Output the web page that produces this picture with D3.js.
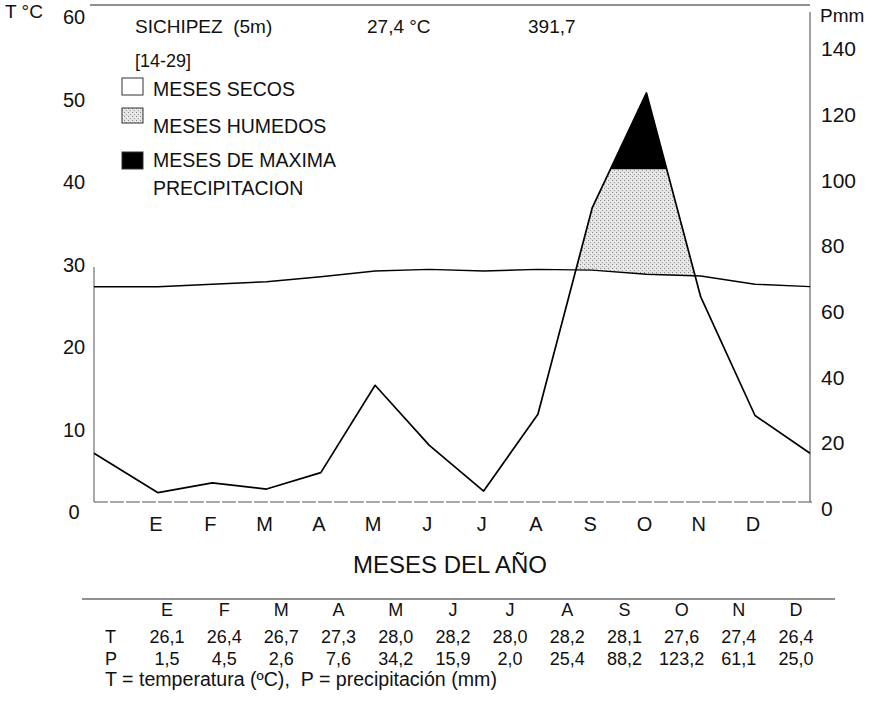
<!DOCTYPE html>
<html>
<head>
<meta charset="utf-8">
<script src="https://cdn.jsdelivr.net/npm/d3@7"></script>
<style>
  body { margin: 0; background: #fff; }
  text { font-family: "Liberation Sans", Arial, sans-serif; fill: #111; }
</style>
</head>
<body>
<script>
const width = 877;
const height = 715;

// datos de la estacion
const months = ["E", "F", "M", "A", "M", "J", "J", "A", "S", "O", "N", "D"];
const temp = [26.1, 26.4, 26.7, 27.3, 28.0, 28.2, 28.0, 28.2, 28.1, 27.6, 27.4, 26.4];
const precip = [1.5, 4.5, 2.6, 7.6, 34.2, 15.9, 2.0, 25.4, 88.2, 123.2, 61.1, 25.0];
const tempTicks = [0, 10, 20, 30, 40, 50, 60];
const precipTicks = [0, 20, 40, 60, 80, 100, 120, 140];
// valor en los bordes del grafico (dic-ene)
const edgeTemp = 26.1;
const edgePrecip = 13.5;
const humidLimit = 100;

const station = "SICHIPEZ \u00a0(5m)";
const meanTemp = "27,4 °C";
const totalPrecip = "391,7";
const range = "[14-29]";
const legendItems = ["MESES SECOS", "MESES HUMEDOS", "MESES DE MAXIMA"];

const plotLeft = 94, plotRight = 810, baseY = 502;

const locale = d3.formatLocale({decimal: ",", thousands: ".", grouping: [3], currency: ["", ""]});
const fmt = locale.format(".1f");

const svg = d3.select("body")
  .append("svg")
  .attr("width", width)
  .attr("height", height)
  .attr("viewBox", [0, 0, width, height]);

const defs = svg.append("defs");

// punteado de los meses humedos
const pat = defs.append("pattern")
  .attr("id", "stipple")
  .attr("patternUnits", "userSpaceOnUse")
  .attr("width", 4).attr("height", 4);
pat.append("rect").attr("width", 4).attr("height", 4).attr("fill", "#e4e4e4");
pat.append("rect").attr("x", 0).attr("y", 0).attr("width", 1).attr("height", 1).attr("fill", "#888");
pat.append("rect").attr("x", 2).attr("y", 2).attr("width", 1).attr("height", 1).attr("fill", "#9c9c9c");
pat.append("rect").attr("x", 3).attr("y", 1).attr("width", 1).attr("height", 1).attr("fill", "#fff");

const x = d3.scaleLinear().domain([0, 11]).range([158, 755]);
const yT = d3.scaleLinear().domain([0, 60]).range([baseY, 7]);
const yP = d3.scaleLinear().domain([0, 140]).range([497.6, 37.8]);

const pts = [{x: plotLeft, t: edgeTemp, p: edgePrecip}]
  .concat(months.map((m, i) => ({x: x(i), t: temp[i], p: precip[i]})))
  .concat([{x: plotRight, t: edgeTemp, p: edgePrecip}]);

const aboveT = d3.area().x(d => d.x).y0(0).y1(d => yT(d.t));
const underP = d3.area().x(d => d.x).y0(baseY).y1(d => yP(d.p));

defs.append("clipPath").attr("id", "clipAboveT")
  .append("path").attr("d", aboveT(pts));
defs.append("clipPath").attr("id", "clipBelow100")
  .append("rect").attr("x", 0).attr("y", yP(humidLimit))
  .attr("width", width).attr("height", baseY - yP(humidLimit));
defs.append("clipPath").attr("id", "clipAbove100")
  .append("rect").attr("x", 0).attr("y", 0)
  .attr("width", width).attr("height", yP(humidLimit));

svg.append("g")
  .attr("clip-path", "url(#clipAboveT)")
  .append("path")
  .attr("d", underP(pts))
  .attr("clip-path", "url(#clipBelow100)")
  .attr("fill", "url(#stipple)");

svg.append("path")
  .attr("d", underP(pts))
  .attr("clip-path", "url(#clipAbove100)")
  .attr("fill", "#000");

// marco
svg.append("line")
  .attr("x1", 90).attr("x2", plotRight).attr("y1", 5).attr("y2", 5)
  .attr("stroke", "#222").attr("stroke-width", 1);
svg.append("line")
  .attr("x1", plotRight).attr("x2", plotRight).attr("y1", 12).attr("y2", baseY)
  .attr("stroke", "#444").attr("stroke-width", 1);
svg.append("line")
  .attr("x1", plotLeft).attr("x2", plotLeft).attr("y1", 267).attr("y2", baseY)
  .attr("stroke", "#555").attr("stroke-width", 1);
svg.append("line")
  .attr("x1", plotLeft).attr("x2", plotRight + 2).attr("y1", baseY).attr("y2", baseY)
  .attr("stroke", "#555").attr("stroke-width", 1)
  .attr("stroke-dasharray", "14 2");

const lineT = d3.line().x(d => d.x).y(d => yT(d.t));
const lineP = d3.line().x(d => d.x).y(d => yP(d.p));

svg.append("path")
  .attr("d", lineT(pts))
  .attr("fill", "none").attr("stroke", "#000").attr("stroke-width", 1.4);
svg.append("path")
  .attr("d", lineP(pts))
  .attr("fill", "none").attr("stroke", "#000").attr("stroke-width", 1.7)
  .attr("stroke-linejoin", "round");

// ejes
svg.append("g").selectAll("text")
  .data(tempTicks)
  .join("text")
  .attr("x", 74)
  .attr("y", d => yT(d) + 10)
  .attr("dy", "0.36em")
  .attr("text-anchor", "middle")
  .style("font-size", "20px")
  .text(d => d);

svg.append("g").selectAll("text")
  .data(precipTicks)
  .join("text")
  .attr("x", 821)
  .attr("y", d => yP(d) + 11)
  .attr("dy", "0.36em")
  .style("font-size", "21px")
  .text(d => d);

svg.append("text").attr("x", 5).attr("y", 18).style("font-size", "19px").text("T °C");
svg.append("text").attr("x", 820).attr("y", 22).style("font-size", "19px").text("Pmm");

svg.append("g").selectAll("text")
  .data(months)
  .join("text")
  .attr("x", (d, i) => x(i) - 2)
  .attr("y", 531)
  .attr("text-anchor", "middle")
  .style("font-size", "20px")
  .text(d => d);

svg.append("text")
  .attr("x", 450).attr("y", 573)
  .attr("text-anchor", "middle")
  .style("font-size", "24px")
  .text("MESES DEL AÑO");

// cabecera y leyenda
svg.append("text").attr("x", 135).attr("y", 33).style("font-size", "19px").text(station);
svg.append("text").attr("x", 367).attr("y", 33).style("font-size", "19px").text(meanTemp);
svg.append("text").attr("x", 528).attr("y", 33).style("font-size", "19px").text(totalPrecip);
svg.append("text").attr("x", 135).attr("y", 67).style("font-size", "18px").text(range);

const boxes = [
  {y: 78, h: 17, fill: "#fff"},
  {y: 108, h: 15, fill: "url(#stipple)"},
  {y: 152, h: 17, fill: "#000"}
];
svg.append("g").selectAll("rect")
  .data(boxes)
  .join("rect")
  .attr("x", 122).attr("y", d => d.y)
  .attr("width", 21).attr("height", d => d.h)
  .attr("fill", d => d.fill)
  .attr("stroke", "#333").attr("stroke-width", 1);

const legendY = [96, 133, 167];
svg.append("g").selectAll("text")
  .data(legendItems)
  .join("text")
  .attr("x", 153).attr("y", (d, i) => legendY[i])
  .style("font-size", "19.5px")
  .text(d => d);
svg.append("text").attr("x", 153).attr("y", 195).style("font-size", "19.5px").text("PRECIPITACION");

// tabla
const col = d3.scaleLinear().domain([0, 11]).range([167, 796]);

svg.append("line")
  .attr("x1", 82).attr("x2", 835).attr("y1", 599).attr("y2", 599)
  .attr("stroke", "#222").attr("stroke-width", 1.2);

svg.append("g").selectAll("text")
  .data(months)
  .join("text")
  .attr("x", (d, i) => col(i))
  .attr("y", 616)
  .attr("text-anchor", "middle")
  .style("font-size", "18px")
  .text(d => d);

svg.append("text").attr("x", 105).attr("y", 643).style("font-size", "18px").text("T");
svg.append("text").attr("x", 105).attr("y", 665).style("font-size", "18px").text("P");

svg.append("g").selectAll("text")
  .data(temp)
  .join("text")
  .attr("x", (d, i) => col(i))
  .attr("y", 643)
  .attr("text-anchor", "middle")
  .style("font-size", "18px")
  .text(d => fmt(d));

svg.append("g").selectAll("text")
  .data(precip)
  .join("text")
  .attr("x", (d, i) => col(i))
  .attr("y", 665)
  .attr("text-anchor", "middle")
  .style("font-size", "18px")
  .text(d => fmt(d));

svg.append("text")
  .attr("x", 105).attr("y", 686)
  .style("font-size", "19.6px")
  .text("T = temperatura (ºC), \u00a0P = precipitación (mm)");
</script>
</body>
</html>
